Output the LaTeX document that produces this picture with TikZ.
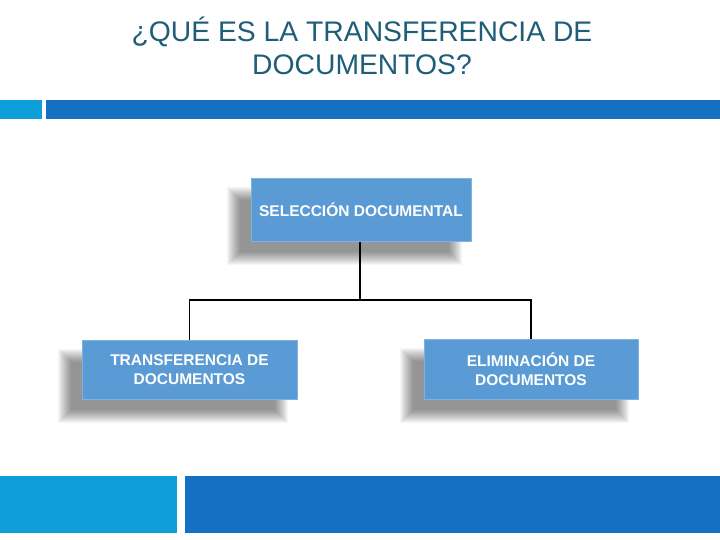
\documentclass[tikz,border=0pt]{standalone}
\usepackage{fontspec}
\setmainfont{Liberation Sans}
\usetikzlibrary{calc}
\pgfdeclarelayer{background}
\pgfsetlayers{background,main}
\definecolor{titlecol}{HTML}{1F5E78}
\definecolor{lightbar}{HTML}{0E9FDA}
\definecolor{darkbar}{HTML}{1570C4}
\definecolor{boxfill}{HTML}{5B9BD5}
\definecolor{boxline}{HTML}{7DB2E2}
\tikzset{
  titletext/.style={text=titlecol, font=\fontsize{28.3}{33}\selectfont, align=center},
  orgbox/.style={draw=boxline, line width=1pt, fill=boxfill, text=white,
     font=\bfseries\fontsize{15.5}{18.5}\selectfont, align=center, inner sep=0pt},
  link/.style={draw=black, line width=1.4pt}
}
\newcommand{\softshadow}[1]{%
  \begin{pgfonlayer}{background}
  \foreach \i in {0,...,13}{
    \fill[black, opacity=0.036]
      ($(#1.north west)+(-24+\i,9+\i)$) rectangle ($(#1.south east)+(-10-\i,23-\i)$);
  }
  \end{pgfonlayer}}
\begin{document}
\begin{tikzpicture}[x=1pt,y=-1pt]
\useasboundingbox (0,0) rectangle (720,540);
\begin{pgfonlayer}{background}
\fill[white] (0,0) rectangle (720,540);
\end{pgfonlayer}
% title
\node[titletext] (title) at (362,46) {¿QUÉ ES LA TRANSFERENCIA DE\\DOCUMENTOS?};
% bars
\fill[lightbar] (0,100) rectangle (42,119);
\fill[darkbar] (46,100) rectangle (720,119);
\fill[lightbar] (0,476) rectangle (177,533);
\fill[darkbar] (185,476) rectangle (720,533);
% boxes
\node[orgbox, minimum width=220pt, minimum height=62pt] (sel) at (361,210) {SELECCIÓN DOCUMENTAL};
\node[orgbox, minimum width=215pt, minimum height=59pt] (tra) at (189.5,369.5) {TRANSFERENCIA DE\\DOCUMENTOS};
\node[orgbox, minimum width=214pt, minimum height=60pt] (eli) at (531,369) {ELIMINACIÓN DE\\DOCUMENTOS};
\softshadow{sel}
\softshadow{tra}
\softshadow{eli}
% connectors
\coordinate (j) at (360,300);
\draw[link] (sel.south -| j) -- (j);
\draw[link] (tra.north) |- (j) -| (eli.north);
\end{tikzpicture}
\end{document}
